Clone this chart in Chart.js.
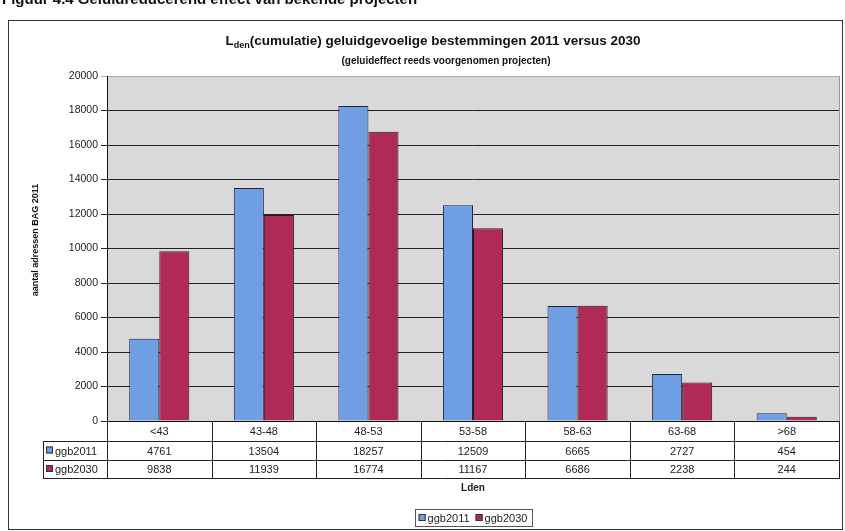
<!DOCTYPE html>
<html>
<head>
<meta charset="UTF-8">
<title>Lden cumulatie 2011 versus 2030</title>
<script src="https://cdn.jsdelivr.net/npm/chart.js"></script>
<style>
    body { margin: 0; background: #fff; }
    #chartContainer { width: 845px; height: 531px; }
</style>
</head>
<body>
<div id="chartContainer">
    <canvas id="barChart" width="845" height="531"></canvas>
</div>
<script>
var categories = ['<43', '43-48', '48-53', '53-58', '58-63', '63-68', '>68'];
var ggb2011 = [4761, 13504, 18257, 12509, 6665, 2727, 454];
var ggb2030 = [9838, 11939, 16774, 11167, 6686, 2238, 244];
var seriesNames = ['ggb2011', 'ggb2030'];
var yTicks = [0, 2000, 4000, 6000, 8000, 10000, 12000, 14000, 16000, 18000, 20000];

var blue = '#6f9fe2';
var red = '#b02a57';
var FONT = '"Liberation Sans", Arial, sans-serif';

// draws plot background, titles, data table and legend
var decor = {
    id: 'decor',
    beforeDraw: function (chart) {
        var ctx = chart.ctx, a = chart.chartArea;
        ctx.save();
        ctx.fillStyle = '#fff';
        ctx.fillRect(0, 0, chart.width, chart.height);
        ctx.fillStyle = '#d9d9d9';
        ctx.fillRect(a.left, a.top, a.right - a.left, a.bottom - a.top);
        ctx.restore();
    },
    afterDraw: function (chart) {
        var ctx = chart.ctx, a = chart.chartArea;
        ctx.save();

        // cut-off caption of the scanned page
        ctx.fillStyle = '#111';
        ctx.font = 'bold 15px ' + FONT;
        ctx.textBaseline = 'alphabetic';
        ctx.textAlign = 'left';
        ctx.fillText('Figuur 4.4 Geluidreducerend effect van bekende projecten', 2, 4);

        // outer frame
        ctx.strokeStyle = '#333';
        ctx.lineWidth = 1;
        ctx.strokeRect(8.5, 20.5, 834, 509);

        // plot right border
        ctx.strokeStyle = '#999';
        ctx.beginPath();
        ctx.moveTo(a.right + 0.5, a.top);
        ctx.lineTo(a.right + 0.5, a.bottom);
        ctx.stroke();

        // title with subscript
        ctx.fillStyle = '#111';
        ctx.textBaseline = 'alphabetic';
        var big = 'bold 13.5px ' + FONT, small = 'bold 9px ' + FONT;
        var rest = '(cumulatie) geluidgevoelige bestemmingen 2011 versus 2030';
        ctx.font = big; var wL = ctx.measureText('L').width; var wR = ctx.measureText(rest).width;
        ctx.font = small; var wS = ctx.measureText('den').width;
        var x0 = 433 - (wL + wS + wR) / 2, ty = 45;
        ctx.textAlign = 'left';
        ctx.font = big; ctx.fillText('L', x0, ty);
        ctx.font = small; ctx.fillText('den', x0 + wL, ty + 3);
        ctx.font = big; ctx.fillText(rest, x0 + wL + wS, ty);

        ctx.textAlign = 'center';
        ctx.font = 'bold 10px ' + FONT;
        ctx.fillText('(geluideffect reeds voorgenomen projecten)', 446, 64);

        // y axis title
        ctx.save();
        ctx.translate(36, 240);
        ctx.rotate(-Math.PI / 2);
        ctx.font = 'bold 9px ' + FONT;
        ctx.textBaseline = 'middle';
        ctx.fillText('aantal adressen BAG 2011', 0, 0);
        ctx.restore();

        // data table
        var n = categories.length;
        var w = (a.right - a.left) / n;
        var rows = [a.bottom, a.bottom + 20, a.bottom + 39, a.bottom + 57];
        var labelLeft = 43;
        ctx.strokeStyle = '#222';
        ctx.beginPath();
        for (var i = 0; i <= n; i++) {
            var bx = Math.round(a.left + i * w) + 0.5;
            ctx.moveTo(bx, rows[0]); ctx.lineTo(bx, rows[3]);
        }
        ctx.moveTo(labelLeft + 0.5, rows[1]); ctx.lineTo(labelLeft + 0.5, rows[3]);
        for (var r = 1; r < 4; r++) {
            ctx.moveTo(labelLeft, rows[r] + 0.5); ctx.lineTo(a.right + 1, rows[r] + 0.5);
        }
        ctx.stroke();

        ctx.fillStyle = '#222';
        ctx.font = '11px ' + FONT;
        ctx.textAlign = 'center';
        ctx.textBaseline = 'middle';
        var series = [ggb2011, ggb2030];
        for (var j = 0; j < n; j++) {
            var cx = a.left + (j + 0.5) * w;
            ctx.fillText(categories[j], cx, (rows[0] + rows[1]) / 2 + 1);
            ctx.fillText(String(series[0][j]), cx, (rows[1] + rows[2]) / 2 + 1);
            ctx.fillText(String(series[1][j]), cx, (rows[2] + rows[3]) / 2 + 1);
        }
        var colors = [blue, red];
        ctx.textAlign = 'left';
        ctx.font = '11px ' + FONT;
        for (var s = 0; s < 2; s++) {
            var ry = (rows[s + 1] + rows[s + 2]) / 2;
            ctx.fillStyle = colors[s];
            ctx.fillRect(46, ry - 4, 7, 7);
            ctx.strokeStyle = '#333';
            ctx.strokeRect(46.5, ry - 3.5, 6, 6);
            ctx.fillStyle = '#222';
            ctx.fillText(seriesNames[s], 55, ry + 1);
        }

        // x axis title
        ctx.textAlign = 'center';
        ctx.font = 'bold 10px ' + FONT;
        ctx.fillText('Lden', (a.left + a.right) / 2, 488);

        // legend
        ctx.font = '11px ' + FONT;
        var t1 = ctx.measureText(seriesNames[0]).width, t2 = ctx.measureText(seriesNames[1]).width;
        var lw = 4 + 9 + t1 + 6 + 9 + t2 + 4;
        var lx = (a.left + a.right) / 2 - lw / 2, ly = 509;
        ctx.strokeStyle = '#555';
        ctx.strokeRect(Math.round(lx) + 0.5, ly + 0.5, Math.round(lw), 17);
        var px = lx + 4;
        for (var k = 0; k < 2; k++) {
            ctx.fillStyle = colors[k];
            ctx.fillRect(px, ly + 5, 7, 7);
            ctx.strokeStyle = '#333';
            ctx.strokeRect(px + 0.5, ly + 5.5, 6, 6);
            ctx.fillStyle = '#222';
            ctx.textAlign = 'left';
            ctx.fillText(seriesNames[k], px + 9, ly + 9.5);
            px += 9 + (k === 0 ? t1 : t2) + 6;
        }
        ctx.restore();
    }
};

var ctx = document.getElementById('barChart').getContext('2d');
var chart = new Chart(ctx, {
    type: 'bar',
    data: {
        labels: categories,
        datasets: [{
            label: seriesNames[0],
            data: ggb2011,
            backgroundColor: blue,
            borderColor: '#1c2440',
            borderWidth: 1,
            categoryPercentage: 0.575,
            barPercentage: 1.0
        }, {
            label: seriesNames[1],
            data: ggb2030,
            backgroundColor: red,
            borderColor: '#2a1820',
            borderWidth: 1,
            categoryPercentage: 0.575,
            barPercentage: 1.0
        }]
    },
    options: {
        responsive: false,
        animation: false,
        devicePixelRatio: 1,
        layout: { padding: { left: 0, top: 76, right: 6, bottom: 110 } },
        plugins: {
            legend: { display: false },
            title: { display: false },
            tooltip: { enabled: false }
        },
        scales: {
            x: {
                ticks: { display: false },
                grid: { display: false },
                border: { display: true, color: '#111', width: 1 },
                afterFit: function (scale) { scale.height = 0; }
            },
            y: {
                min: 0,
                max: 20000,
                afterBuildTicks: function (scale) {
                    scale.ticks = yTicks.map(function (v) { return { value: v }; });
                },
                ticks: {
                    color: '#222',
                    padding: 3,
                    font: { family: FONT, size: 10.5 },
                    callback: function (value) { return String(value); }
                },
                grid: {
                    color: function (c) { return c.tick && c.tick.value === 20000 ? '#aaa' : '#222'; },
                    lineWidth: 1,
                    tickLength: 6
                },
                border: { display: true, color: '#111', width: 1 },
                afterFit: function (scale) { scale.width = 107; }
            }
        }
    },
    plugins: [decor]
});
</script>
</body>
</html>
